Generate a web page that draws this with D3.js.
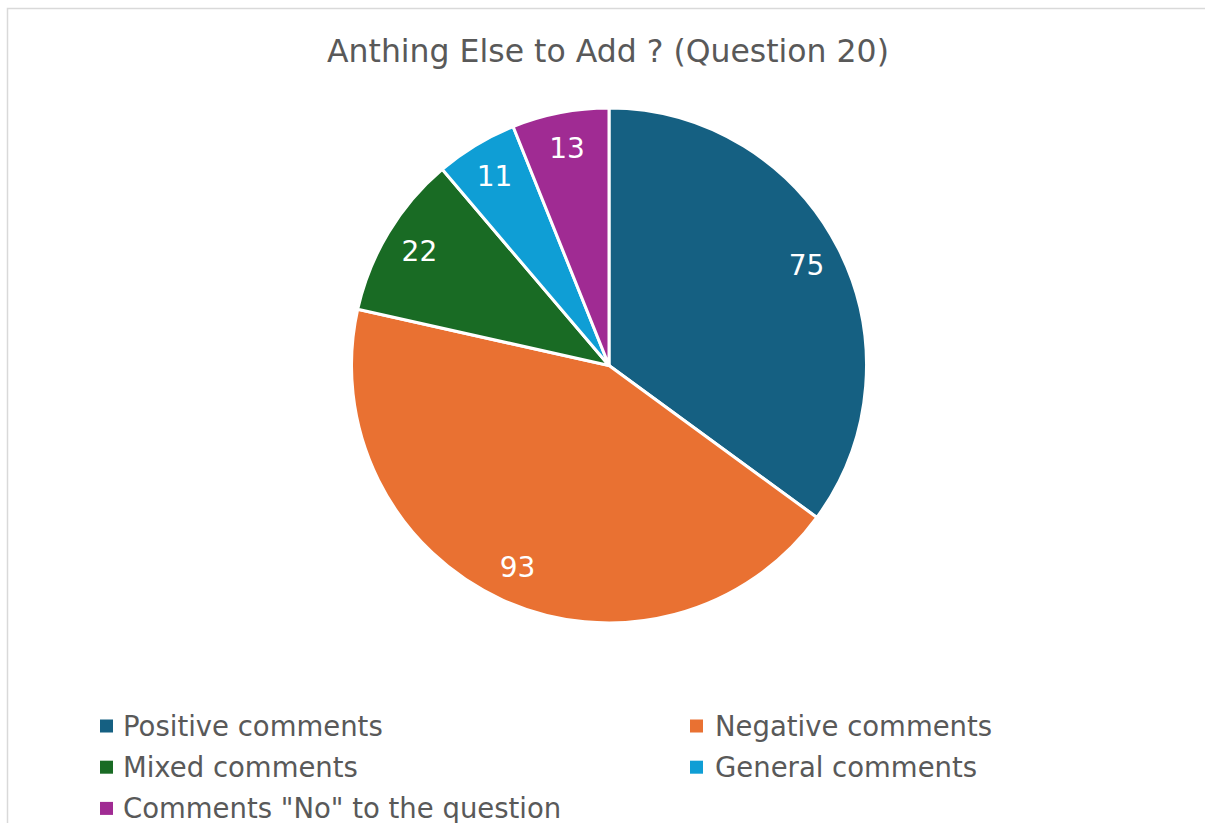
<!DOCTYPE html>
<html>
<head>
<meta charset="utf-8">
<script src="https://cdn.jsdelivr.net/npm/d3@7"></script>
<style>
  html, body { margin: 0; padding: 0; background: #ffffff; }
  svg { display: block; }
  text { font-family: "DejaVu Sans", "Noto Sans", sans-serif; }
</style>
</head>
<body>
<svg id="chart" width="1205" height="823"></svg>
<script>
const categories = ["Positive comments", "Negative comments", "Mixed comments", "General comments", "Comments \"No\" to the question"];
const values = [75, 93, 22, 11, 13];
const colors = ["#156082", "#E97132", "#196B24", "#0F9ED5", "#A02B93"];
const title = "Anthing Else to Add ? (Question 20)";

const svg = d3.select("#chart");

// chart frame
svg.append("rect")
  .attr("x", 7.5).attr("y", 8.5)
  .attr("width", 1230).attr("height", 840)
  .attr("fill", "#ffffff")
  .attr("stroke", "#d9d9d9").attr("stroke-width", 1.5);

svg.append("text")
  .attr("x", 608).attr("y", 62)
  .attr("text-anchor", "middle")
  .attr("font-size", 31.5)
  .attr("fill", "#595959")
  .text(title);

const cx = 609, cy = 365.5, R = 257.5;
const data = categories.map((c, i) => ({ name: c, value: values[i], color: colors[i] }));

const pie = d3.pie().value(d => d.value).sort(null);
const arc = d3.arc().innerRadius(0).outerRadius(R);
const labelArc = d3.arc().innerRadius(R * 0.86).outerRadius(R * 0.86);

const g = svg.append("g").attr("transform", `translate(${cx},${cy})`);
const arcs = pie(data);

g.selectAll("path.slice")
  .data(arcs)
  .join("path")
  .attr("class", "slice")
  .attr("d", arc)
  .attr("fill", d => d.data.color)
  .attr("stroke", "#ffffff")
  .attr("stroke-width", 3)
  .attr("stroke-linejoin", "round");

g.selectAll("text.value")
  .data(arcs)
  .join("text")
  .attr("class", "value")
  .attr("transform", d => `translate(${labelArc.centroid(d)})`)
  .attr("text-anchor", "middle")
  .attr("dy", "0.36em")
  .attr("font-family", "Roboto, sans-serif")
  .attr("font-size", 28)
  .attr("fill", "#ffffff")
  .text(d => d.data.value);

// legend: two columns, row-major
const legendX = [100, 690], legendY0 = 736, rowH = 41.2;
const legend = svg.append("g");
const items = legend.selectAll("g.item")
  .data(data)
  .join("g")
  .attr("class", "item")
  .attr("transform", (d, i) => `translate(${legendX[i % 2]},${legendY0 + Math.floor(i / 2) * rowH})`);

items.append("rect")
  .attr("x", 0).attr("y", -16.5)
  .attr("width", 13).attr("height", 13)
  .attr("fill", d => d.color);

items.append("text")
  .attr("x", d => (data.indexOf(d) % 2 ? 25 : 23))
  .attr("y", 0)
  .attr("font-size", 27.5)
  .attr("fill", "#595959")
  .text(d => d.name);
</script>
</body>
</html>
